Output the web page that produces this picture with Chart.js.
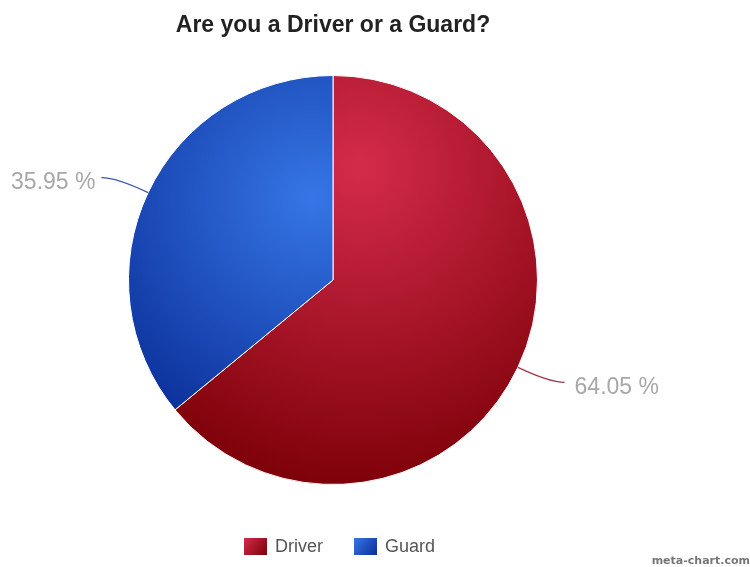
<!DOCTYPE html>
<html>
<head>
<meta charset="utf-8">
<script src="https://cdn.jsdelivr.net/npm/chart.js@4.4.1/dist/chart.umd.min.js"></script>
<style>
  html, body { margin: 0; padding: 0; background: #fff; }
  #wrap { width: 750px; height: 567px; position: relative; }
</style>
</head>
<body>
<div id="wrap"><canvas id="pieChart" width="750" height="567"></canvas></div>
<script>
const chartTitle = 'Are you a Driver or a Guard?';
const categories = ['Driver', 'Guard'];
const shares = [64.05, 35.95];
const lightColors = ['#d42b4b', '#3676e6'];
const darkColors = ['#7c0007', '#0a2e98'];
const lineColors = ['#9a3a48', '#3a58a8'];

// radial gradient per slice, light spot a bit above the centre
function sliceFill(context) {
    const chart = context.chart;
    const area = chart.chartArea;
    if (!area) return lightColors[context.dataIndex];
    const cx = (area.left + area.right) / 2;
    const cy = (area.top + area.bottom) / 2;
    const r = Math.min(area.right - area.left, area.bottom - area.top) / 2;
    const i = context.dataIndex;
    let g;
    if (i === 0) {
        g = chart.ctx.createRadialGradient(cx + r * 0.13, cy - r * 0.55, 0, cx + r * 0.13, cy - r * 0.55, r * 1.6);
    } else {
        g = chart.ctx.createRadialGradient(cx - r * 0.1, cy - r * 0.4, 0, cx - r * 0.1, cy - r * 0.4, r * 1.3);
    }
    g.addColorStop(0, lightColors[i]);
    g.addColorStop(1, darkColors[i]);
    return g;
}

const extras = {
    id: 'extras',
    afterDraw(chart) {
        const ctx = chart.ctx;
        const meta = chart.getDatasetMeta(0);
        ctx.save();

        // title
        ctx.fillStyle = '#222';
        ctx.font = 'bold 23px "Liberation Sans", Arial, sans-serif';
        ctx.textAlign = 'center';
        ctx.textBaseline = 'middle';
        ctx.fillText(chartTitle, 333, 26);

        // percentage labels with connectors
        meta.data.forEach((arc, i) => {
            const mid = (arc.startAngle + arc.endAngle) / 2;
            const dx = Math.cos(mid), dy = Math.sin(mid);
            const r = arc.outerRadius;
            const ex = arc.x + dx * r, ey = arc.y + dy * r;
            const bx = arc.x + dx * (r + 35), by = arc.y + dy * (r + 35);
            const side = dx < 0 ? -1 : 1;
            const endX = bx + side * 15;
            ctx.strokeStyle = lineColors[i];
            ctx.lineWidth = 1.2;
            ctx.beginPath();
            ctx.moveTo(ex, ey);
            ctx.quadraticCurveTo(bx, by, endX, by);
            ctx.stroke();
            ctx.fillStyle = '#a8a8a8';
            ctx.font = '23px "Liberation Sans", Arial, sans-serif';
            ctx.textAlign = side < 0 ? 'right' : 'left';
            ctx.textBaseline = 'middle';
            ctx.fillText(shares[i].toFixed(2) + ' %', endX + side * (side < 0 ? 6 : 10), by + 5);
        });

        // legend
        const boxes = [244, 354];
        ctx.font = '18px "Liberation Sans", Arial, sans-serif';
        ctx.textAlign = 'left';
        ctx.textBaseline = 'middle';
        categories.forEach((name, i) => {
            const x = boxes[i], y = 538;
            const g = ctx.createLinearGradient(x, y, x + 23, y + 17);
            g.addColorStop(0, lightColors[i]);
            g.addColorStop(1, darkColors[i]);
            ctx.fillStyle = g;
            ctx.fillRect(x, y, 23, 17);
            ctx.fillStyle = '#555';
            ctx.fillText(name, x + 31, y + 9);
        });

        // credit
        ctx.fillStyle = '#777';
        ctx.font = 'bold 11px "DejaVu Sans", sans-serif';
        ctx.textAlign = 'right';
        ctx.textBaseline = 'middle';
        ctx.fillText('meta-chart.com', 750, 561);
        ctx.restore();
    }
};

new Chart(document.getElementById('pieChart'), {
    type: 'pie',
    data: {
        labels: categories,
        datasets: [{
            data: shares,
            backgroundColor: sliceFill,
            borderColor: '#ffffff',
            borderWidth: 1
        }]
    },
    options: {
        responsive: false,
        animation: false,
        layout: { padding: { left: 128, right: 212, top: 75, bottom: 82 } },
        plugins: {
            legend: { display: false },
            title: { display: false },
            tooltip: { enabled: false }
        }
    },
    plugins: [extras]
});
</script>
</body>
</html>
